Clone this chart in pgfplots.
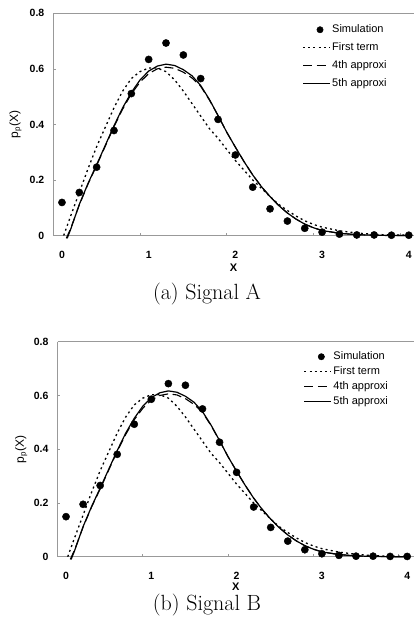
\documentclass[border=0pt]{standalone}
\usepackage{fontspec}
\usepackage{pgfplots}
\usepackage{pgfplotstable}
\pgfplotsset{compat=1.18}
\newfontfamily\chartfont{Liberation Sans}
\definecolor{axisgray}{gray}{0.6}

% simulation points, signal A and signal B
\pgfplotstableread{
x    y
0.0  0.119
0.2  0.155
0.4  0.246
0.6  0.378
0.8  0.511
1.0  0.634
1.2  0.693
1.4  0.650
1.6  0.565
1.8  0.418
2.0  0.290
2.2  0.174
2.4  0.096
2.6  0.052
2.8  0.026
3.0  0.012
3.2  0.005
3.4  0.002
3.6  0.002
3.8  0.001
4.0  0.001
}\simA
\pgfplotstableread{
x    y
0.0  0.149
0.2  0.195
0.4  0.265
0.6  0.381
0.8  0.493
1.0  0.586
1.2  0.644
1.4  0.638
1.6  0.550
1.8  0.426
2.0  0.314
2.2  0.185
2.4  0.109
2.6  0.058
2.8  0.026
3.0  0.011
3.2  0.005
3.4  0.002
3.6  0.002
3.8  0.001
4.0  0.001
}\simB
% approximations (same in both panels)
\pgfplotstableread{
x    y
0.02 0.000
0.1  0.070
0.2  0.155
0.3  0.240
0.4  0.320
0.5  0.390
0.6  0.460
0.7  0.520
0.8  0.565
0.9  0.590
1.0  0.603
1.1  0.603
1.2  0.590
1.3  0.560
1.4  0.520
1.5  0.475
1.6  0.430
1.7  0.385
1.8  0.350
1.9  0.310
2.0  0.270
2.1  0.235
2.2  0.200
2.3  0.170
2.4  0.140
2.5  0.112
2.6  0.090
2.7  0.070
2.8  0.053
2.9  0.040
3.0  0.030
3.2  0.017
3.4  0.009
3.6  0.004
3.8  0.002
4.0  0.001
}\firstterm
\pgfplotstableread{
x    y
0.05 -0.010
0.1  0.025
0.2  0.110
0.3  0.185
0.4  0.252
0.5  0.322
0.6  0.392
0.7  0.455
0.8  0.510
0.9  0.552
1.0  0.583
1.1  0.600
1.2  0.606
1.3  0.602
1.4  0.588
1.5  0.567
1.6  0.537
1.7  0.488
1.8  0.432
1.9  0.372
2.0  0.318
2.1  0.266
2.2  0.218
2.3  0.176
2.4  0.140
2.5  0.108
2.6  0.081
2.7  0.059
2.8  0.041
2.9  0.028
3.0  0.018
3.2  0.008
3.4  0.003
3.6  0.001
3.8  0.000
4.0  0.000
}\fourth
\pgfplotstableread{
x    y
0.06 -0.010
0.1  0.022
0.2  0.112
0.3  0.187
0.4  0.255
0.5  0.325
0.6  0.395
0.7  0.460
0.8  0.515
0.9  0.560
1.0  0.592
1.1  0.610
1.2  0.617
1.3  0.612
1.4  0.597
1.5  0.575
1.6  0.540
1.7  0.490
1.8  0.432
1.9  0.372
2.0  0.318
2.1  0.266
2.2  0.218
2.3  0.176
2.4  0.140
2.5  0.108
2.6  0.081
2.7  0.059
2.8  0.041
2.9  0.028
3.0  0.018
3.2  0.008
3.4  0.003
3.6  0.001
3.8  0.000
4.0  0.000
}\fifth

\pgfplotsset{
  sigpanel/.style={
    scale only axis,
    xmin=-0.1, ymin=0, ymax=0.8,
    clip=false,
    axis x line*=bottom, axis y line*=left,
    x axis line style={-}, y axis line style={-},
    axis line style={draw=axisgray, line width=0.8pt},
    tick align=inside,
    major tick length=2.5pt,
    tick style={axisgray, line width=0.7pt},
    xtick={0,1,2,3,4}, xticklabels={0,1,2,3,4},
    x tick style={draw=none},
    extra x ticks={0.9,1.9,2.9,3.9}, extra x tick labels={},
    extra x tick style={x tick style={draw=axisgray}, major tick length=3pt},
    ytick={0,0.2,0.4,0.6,0.8}, yticklabels={0,0.2,0.4,0.6,0.8},
    ticklabel style={font=\chartfont\bfseries\fontsize{10.5}{12}\selectfont},
    xticklabel style={yshift=-12pt},
    yticklabel style={xshift=-5.5pt},
    xlabel={X}, ylabel={p\textsubscript{p}(X)},
    xlabel style={font=\chartfont\bfseries\fontsize{11}{12}\selectfont, anchor=center},
    ylabel style={font=\chartfont\fontsize{12}{13}\selectfont, anchor=center, rotate=0},
    legend cell align=left,
    after end axis/.code={\draw[axisgray, line width=0.8pt] (rel axis cs:0,1) -- (rel axis cs:1,1);},
  },
  simstyle/.style={only marks, mark=*, mark size=3.6pt, black,
    legend image code/.code={\path[draw=none] (0pt,0pt) -- (27pt,0pt);
      \draw[##1, draw=none, mark size=3.2pt, mark options={draw=black, fill=black}] plot coordinates {(17pt,0pt)};}},
  firststyle/.style={black, line width=1.3pt, dash pattern=on 2pt off 3.2pt,
    legend image code/.code={\draw[##1] (0pt,0pt) -- (27pt,0pt);}},
  fourthstyle/.style={black, line width=1.1pt, dash pattern=on 9pt off 4.5pt,
    legend image code/.code={\draw[##1] (0pt,0pt) -- (27pt,0pt);}},
  fifthstyle/.style={black, line width=1.2pt,
    legend image code/.code={\draw[##1] (0pt,0pt) -- (27pt,0pt);}},
}

\begin{document}
\begin{tikzpicture}
\path[use as bounding box] (0pt,0pt) rectangle (414pt,-627pt);

% (a) Signal A
\begin{axis}[sigpanel,
  at={(53.3pt,-235.5pt)}, anchor=south west,
  width=360.7pt, height=222.2pt, xmax=4.06,
  xlabel style={at={(rel axis cs:0.5,-0.146)}},
  ylabel style={at={(rel axis cs:-0.105,0.5)}},
  legend style={at={(rel axis cs:0.69,0.955)}, anchor=north west, draw=none, fill=none,
    inner sep=0pt, row sep=5.5pt, font=\chartfont\fontsize{11}{12}\selectfont,
    nodes={inner sep=1.5pt}},
]
\addplot[simstyle] table[x=x, y=y] {\simA};
\addlegendentry{Simulation}
\addplot[firststyle] table[x=x, y=y] {\firstterm};
\addlegendentry{First term}
\addplot[fourthstyle] table[x=x, y=y] {\fourth};
\addlegendentry{4th approxi}
\addplot[fifthstyle] table[x=x, y=y] {\fifth};
\addlegendentry{5th approxi}
\end{axis}
\node[font=\fontsize{22}{24}\selectfont] at (207pt,-294pt) {(a) Signal A};

% (b) Signal B
\begin{axis}[sigpanel,
  at={(57.5pt,-556.7pt)}, anchor=south west,
  width=356.5pt, height=215pt, xmax=4.08,
  xlabel style={at={(rel axis cs:0.5,-0.138)}},
  ylabel style={at={(rel axis cs:-0.102,0.5)}},
  legend style={at={(rel axis cs:0.69,0.96)}, anchor=north west, draw=none, fill=none,
    inner sep=0pt, row sep=2.5pt, font=\chartfont\fontsize{11}{12}\selectfont,
    nodes={inner sep=1.5pt}},
]
\addplot[simstyle] table[x=x, y=y] {\simB};
\addlegendentry{Simulation}
\addplot[firststyle] table[x=x, y=y] {\firstterm};
\addlegendentry{First term}
\addplot[fourthstyle] table[x=x, y=y] {\fourth};
\addlegendentry{4th approxi}
\addplot[fifthstyle] table[x=x, y=y] {\fifth};
\addlegendentry{5th approxi}
\end{axis}
\node[font=\fontsize{22}{24}\selectfont] at (207pt,-605pt) {(b) Signal B};
\end{tikzpicture}
\end{document}
